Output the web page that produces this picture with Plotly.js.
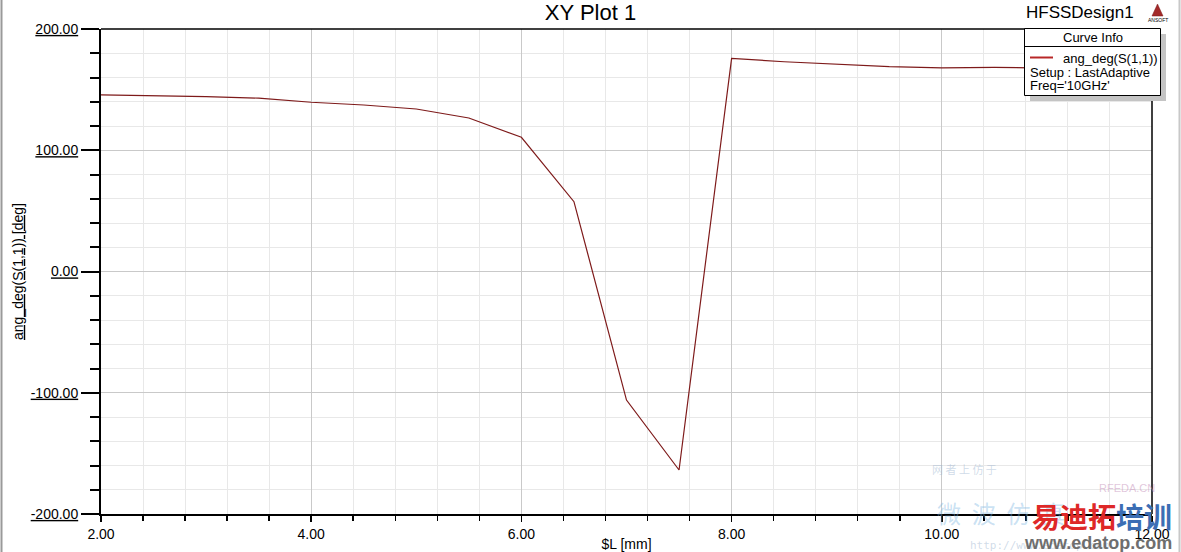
<!DOCTYPE html>
<html>
<head>
<meta charset="utf-8">
<script src="https://cdn.plot.ly/plotly-3.0.1.min.js"></script>
<style>html,body{margin:0;padding:0;background:#fff;}#chart{width:1181px;height:552px;}</style>
</head>
<body>
<div id="chart"></div>
<script>
// Data (x in mm, y in degrees)
const lengthMm = [2.0, 2.5, 3.0, 3.5, 4.0, 4.5, 5.0, 5.5, 6.0, 6.5, 7.0, 7.5, 8.0, 8.5, 9.0, 9.5, 10.0, 10.5, 11.0, 11.5, 12.0];
const angDeg = [145.6, 145.2, 144.2, 143.0, 139.6, 137.3, 134.0, 126.6, 110.7, 57.6, -106.0, -163.7, 175.8, 173.0, 171.0, 169.0, 168.0, 168.3, 167.8, 167.3, 166.8];
const xTickVals = [2, 4, 6, 8, 10, 12];
const xTickText = ['2.00', '4.00', '6.00', '8.00', '10.00', '12.00'];
const yTickVals = [-200, -100, 0, 100, 200];
const yTickText = ['-200.00', '-100.00', '0.00', '100.00', '200.00'];
const seriesName = 'ang_deg(S(1,1))';
const legendLines = ['Setup : LastAdaptive', "Freq='10GHz'"];

// pixel -> paper helpers (plot area: x 101..1152, y 29..514)
const L = 101, R = 1152, T = 29, B = 514;
const px = X => (X - L) / (R - L);
const py = Y => (B - Y) / (B - T);
const FONT = 'Liberation Sans, Arial, sans-serif';

const trace = {
  x: lengthMm, y: angDeg, type: 'scatter', mode: 'lines',
  line: {color: '#7e1a1a', width: 1.2}, name: seriesName, showlegend: false
};

const shapes = [
  {type: 'line', xref: 'paper', yref: 'paper', x0: 0, x1: 1, y0: 1, y1: 1, line: {color: '#000', width: 1.5}},
  {type: 'line', xref: 'paper', yref: 'paper', x0: 1, x1: 1, y0: 0, y1: 1, line: {color: '#000', width: 1.5}},
  {type: 'line', xref: 'paper', yref: 'paper', x0: px(1.5), x1: px(1.5), y0: py(0), y1: py(552), line: {color: '#9a9a9a', width: 2}},
  {type: 'line', xref: 'paper', yref: 'paper', x0: px(1179.5), x1: px(1179.5), y0: py(0), y1: py(552), line: {color: '#c8c8c8', width: 2}},
  {type: 'rect', xref: 'paper', yref: 'paper', x0: px(1030), x1: px(1166), y0: py(34), y1: py(101), fillcolor: '#c4c4c4', line: {width: 0}},
  {type: 'rect', xref: 'paper', yref: 'paper', x0: px(1024.5), x1: px(1160.5), y0: py(28.5), y1: py(95.5), fillcolor: '#ffffff', line: {color: '#000', width: 1}},
  {type: 'line', xref: 'paper', yref: 'paper', x0: px(1024.5), x1: px(1160.5), y0: py(46.5), y1: py(46.5), line: {color: '#000', width: 1}},
  {type: 'line', xref: 'paper', yref: 'paper', x0: px(1030), x1: px(1053), y0: py(57.5), y1: py(57.5), line: {color: '#b82828', width: 2}},
  {type: 'path', xref: 'paper', yref: 'paper',
   path: `M ${px(1152)} ${py(16)} L ${px(1157.5)} ${py(4)} L ${px(1163)} ${py(16)} Z`,
   fillcolor: '#a32a2a', line: {color: '#7a1a1a', width: 0.5}}
];

const ann = (text, X, Y, opts = {}) => Object.assign({
  text, xref: 'paper', yref: 'paper', x: px(X), y: py(Y), showarrow: false,
  xanchor: 'left', yanchor: 'middle', font: {family: FONT, size: 13, color: '#000'}
}, opts);

const annotations = [
  ann('HFSSDesign1', 1080, 13, {xanchor: 'center', font: {family: FONT, size: 17, color: '#000'}}),
  ann('ANSOFT', 1158, 19.5, {xanchor: 'center', font: {family: FONT, size: 5, color: '#000'}}),
  ann('Curve Info', 1092.5, 37.5, {xanchor: 'center'}),
  ann(seriesName, 1061, 58),
  ann(legendLines[0], 1028, 72),
  ann(legendLines[1], 1028, 85.5),
  // watermark
  ann('网 者 上 仿 于', 930, 469, {font: {family: 'Noto Sans CJK SC', size: 11, color: 'rgba(150,175,205,0.45)'}}),
  ann('RFEDA.CN', 1097, 488, {font: {family: FONT, size: 11, color: 'rgba(200,150,190,0.55)'}}),
  ann('微  波  仿  真', 935, 512, {font: {family: 'Noto Sans CJK SC', size: 24, color: 'rgba(120,180,225,0.4)'}}),
  ann('http://www.edatop.com', 968, 545, {font: {family: 'DejaVu Sans Mono', size: 11, color: 'rgba(150,175,205,0.45)'}}),
  ann('<b><span style="color:#de2828">易迪拓</span><span style="color:#3c6eb4">培训</span></b>', 1030, 516,
      {font: {family: 'Noto Sans CJK SC', size: 28, color: '#de2828'}}),
  ann('<b>www.edatop.com</b>', 1022, 543, {font: {family: FONT, size: 18, color: '#6e6e6e'}})
];

const layout = {
  width: 1181, height: 552,
  margin: {l: L, r: 1181 - R, t: T, b: 552 - B, pad: 0},
  paper_bgcolor: '#ffffff', plot_bgcolor: '#ffffff',
  title: {text: 'XY Plot 1', x: 0.5, xref: 'container', y: 1 - 12 / 552, yref: 'container', yanchor: 'middle',
          font: {family: FONT, size: 22, color: '#000'}},
  showlegend: false,
  xaxis: {
    range: [2, 12], tickmode: 'array', tickvals: xTickVals, ticktext: xTickText,
    ticks: 'outside', ticklen: 6, tickwidth: 1.5, tickcolor: '#000',
    showline: true, linecolor: '#000', linewidth: 2, zeroline: false,
    showgrid: true, gridcolor: '#c9c9c9', gridwidth: 1,
    minor: {dtick: 0.4, tick0: 2, ticks: 'outside', ticklen: 5, tickwidth: 1.5, tickcolor: '#000', showgrid: true, gridcolor: '#e8e8e8', gridwidth: 1},
    tickfont: {family: FONT, size: 14, color: '#000'},
    title: {text: '$L [mm]', standoff: 2, font: {family: FONT, size: 14, color: '#000'}},
    fixedrange: true
  },
  yaxis: {
    range: [-200, 200], tickmode: 'array', tickvals: yTickVals, ticktext: yTickText,
    ticks: 'outside', ticklen: 18, tickwidth: 2, tickcolor: '#000',
    showline: true, linecolor: '#000', linewidth: 2, zeroline: false,
    showgrid: true, gridcolor: '#c9c9c9', gridwidth: 1,
    minor: {dtick: 20, tick0: 0, ticks: 'outside', ticklen: 9, tickwidth: 2, tickcolor: '#000', showgrid: true, gridcolor: '#e8e8e8', gridwidth: 1},
    tickfont: {family: FONT, size: 14, color: '#000', lineposition: 'under'},
    title: {text: 'ang_deg(S(1,1)) [deg]', standoff: 4, font: {family: FONT, size: 14, color: '#000', lineposition: 'under'}},
    fixedrange: true
  },
  shapes, annotations
};

Plotly.newPlot('chart', [trace], layout, {displayModeBar: false, staticPlot: true});
</script>
</body>
</html>
